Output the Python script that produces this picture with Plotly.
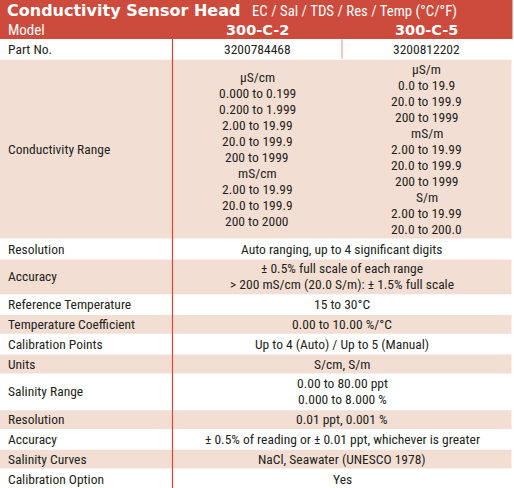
import plotly.graph_objects as go

# ---------------- data ----------------
title_bold = "Conductivity Sensor Head"
title_sub = "EC / Sal / TDS / Res / Temp (°C/°F)"
header_label = "Model"
models = ["300-C-2", "300-C-5"]

row_labels = [
    "Part No.",
    "Conductivity Range",
    "Resolution",
    "Accuracy",
    "Reference Temperature",
    "Temperature Coefficient",
    "Calibration Points",
    "Units",
    "Salinity Range",
    "Resolution",
    "Accuracy",
    "Salinity Curves",
    "Calibration Option",
]

# values for model 300-C-2 (or spanning value when the second list has None)
values_c2 = [
    ["3200784468"],
    ["µS/cm", "0.000 to 0.199", "0.200 to 1.999", "2.00 to 19.99", "20.0 to 199.9",
     "200 to 1999", "mS/cm", "2.00 to 19.99", "20.0 to 199.9", "200 to 2000"],
    ["Auto ranging, up to 4 significant digits"],
    ["± 0.5% full scale of each range", "> 200 mS/cm (20.0 S/m): ± 1.5% full scale"],
    ["15 to 30°C"],
    ["0.00 to 10.00 %/°C"],
    ["Up to 4 (Auto) / Up to 5 (Manual)"],
    ["S/cm, S/m"],
    ["0.00 to 80.00 ppt", "0.000 to 8.000 %"],
    ["0.01 ppt, 0.001 %"],
    ["± 0.5% of reading or ± 0.01 ppt, whichever is greater"],
    ["NaCl, Seawater (UNESCO 1978)"],
    ["Yes"],
]

values_c5 = [
    ["3200812202"],
    ["µS/m", "0.0 to 19.9", "20.0 to 199.9", "200 to 1999", "mS/m", "2.00 to 19.99",
     "20.0 to 199.9", "200 to 1999", "S/m", "2.00 to 19.99", "20.0 to 200.0"],
    None, None, None, None, None, None, None, None, None, None, None,
]

# ---------------- style ----------------
W, H = 514, 488
RED = "#CD4B3C"
PINK = "#F3DED4"
LINE_RED = "#D9463B"
LINE_LIGHT = "#E9A49B"
TEXT = "#231F20"
BODY_FONT = "Roboto Condensed, Roboto, sans-serif"
HEAVY_FONT = "DejaVu Sans, Arial Black, sans-serif"
TITLE_H = 20
MODEL_H = 19
X_SPLIT1 = 172.5
X_SPLIT2 = 342
X_RIGHT = 511.5
LINE_STEP = 16
PAD = 3.8
LABEL_X = 6
BODY_SIZE = 13.5

fig = go.Figure()
shapes = []
ann = []

# header band
shapes.append(dict(type="rect", xref="x", yref="y", x0=0, x1=X_RIGHT + 1, y0=0,
                   y1=TITLE_H + MODEL_H, fillcolor=RED, line_width=0, layer="below"))
ann.append(dict(x=5, y=TITLE_H / 2 + 0.5, text="<b>" + title_bold + "</b>", xanchor="left",
                yanchor="middle", showarrow=False,
                font=dict(family=HEAVY_FONT, size=16, color="white")))
ann.append(dict(x=250, y=TITLE_H / 2 + 0.5, text=title_sub, xanchor="left", yanchor="middle",
                showarrow=False, font=dict(family=BODY_FONT, size=14.8, color="white")))
ann.append(dict(x=LABEL_X, y=TITLE_H + MODEL_H / 2 + 0.5, text=header_label, xanchor="left",
                yanchor="middle", showarrow=False,
                font=dict(family=BODY_FONT, size=15, color="white")))
col_centers = [(X_SPLIT1 + X_SPLIT2) / 2, (X_SPLIT2 + X_RIGHT) / 2]
for m, cx in zip(models, col_centers):
    ann.append(dict(x=cx, y=TITLE_H + MODEL_H / 2 + 0.5, text="<b>" + m + "</b>",
                    xanchor="center", yanchor="middle", showarrow=False,
                    font=dict(family=HEAVY_FONT, size=14.5, color="white")))

# body rows
y = TITLE_H + MODEL_H
for i, label in enumerate(row_labels):
    a = values_c2[i]
    b = values_c5[i]
    n = max(len(a), len(b) if b else 0)
    h = PAD + n * LINE_STEP
    y0, y1 = y, y + h
    yc = (y0 + y1) / 2
    if i % 2 == 1:
        shapes.append(dict(type="rect", xref="x", yref="y", x0=0, x1=X_RIGHT, y0=y0 + 1,
                           y1=y1, fillcolor=PINK, line_width=0, layer="below"))
    ann.append(dict(x=LABEL_X, y=yc, text=label, xanchor="left", yanchor="middle",
                    showarrow=False, font=dict(family=BODY_FONT, size=BODY_SIZE, color=TEXT)))
    cols = [(a, col_centers[0]), (b, col_centers[1])] if b else [(a, (X_SPLIT1 + X_RIGHT) / 2)]
    for lines, cx in cols:
        k = len(lines)
        for j, t in enumerate(lines):
            ann.append(dict(x=cx, y=yc + (j - (k - 1) / 2) * LINE_STEP, text=t,
                            xanchor="center", yanchor="middle", showarrow=False,
                            font=dict(family=BODY_FONT, size=BODY_SIZE, color=TEXT)))
    if b and i == 0:
        shapes.append(dict(type="line", xref="x", yref="y", x0=X_SPLIT2, x1=X_SPLIT2,
                           y0=y0, y1=y1, line=dict(color=LINE_LIGHT, width=1.2)))
    y = y1

shapes.append(dict(type="line", xref="x", yref="y", x0=X_SPLIT1, x1=X_SPLIT1,
                   y0=TITLE_H + MODEL_H, y1=H, line=dict(color=LINE_RED, width=1.2)))

fig.update_layout(
    width=W, height=H, margin=dict(l=0, r=0, t=0, b=0),
    paper_bgcolor="white", plot_bgcolor="white",
    xaxis=dict(range=[0, W], visible=False, fixedrange=True),
    yaxis=dict(range=[H, 0], visible=False, fixedrange=True),
    shapes=shapes, annotations=ann, showlegend=False,
)
fig.write_html("out.html", config={"displayModeBar": False},
               post_script="document.body.style.margin='0';document.body.style.overflow='hidden';")
